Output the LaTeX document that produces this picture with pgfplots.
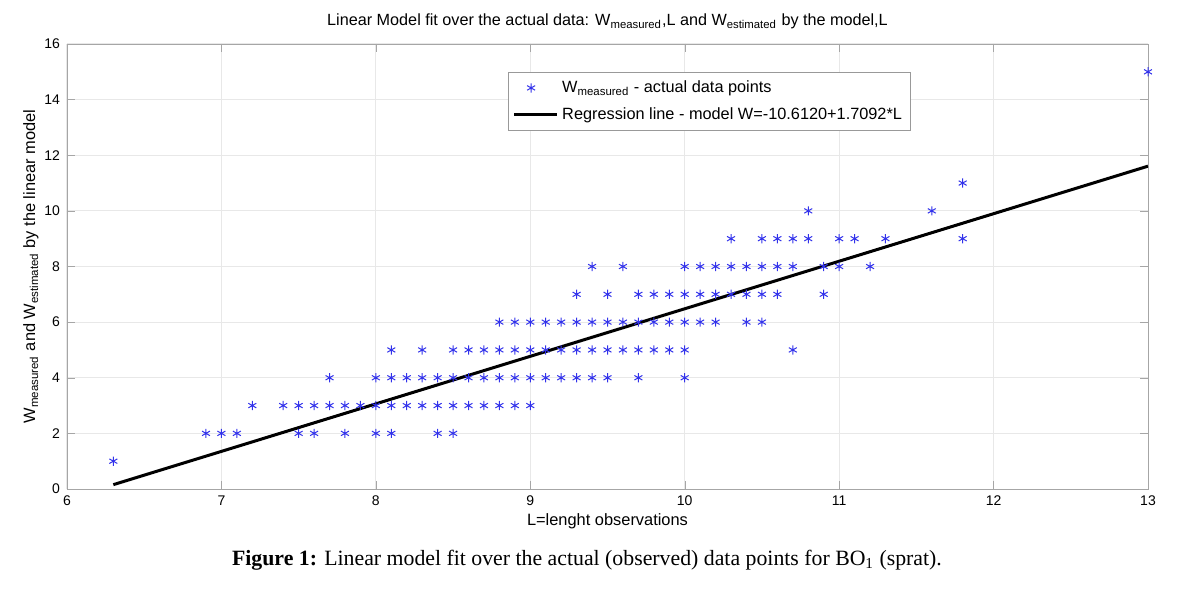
\documentclass[border=0pt]{standalone}
\usepackage{pgfplots}
\pgfplotsset{compat=1.18}
\usepackage{fontspec}
\setmainfont{Liberation Sans}
\newfontfamily\capfont{Liberation Serif}

\pgfplotsset{longline/.style={legend image code/.code={\draw[##1] (0cm,0cm) -- (0.75cm,0cm);}}}

% observed points, one row per weight value
\pgfplotstableread{
x y
6.3 1
6.9 2
7.0 2
7.1 2
7.5 2
7.6 2
7.8 2
8.0 2
8.1 2
8.4 2
8.5 2
7.2 3
7.4 3
7.5 3
7.6 3
7.7 3
7.8 3
7.9 3
8.0 3
8.1 3
8.2 3
8.3 3
8.4 3
8.5 3
8.6 3
8.7 3
8.8 3
8.9 3
9.0 3
7.7 4
8.0 4
8.1 4
8.2 4
8.3 4
8.4 4
8.5 4
8.6 4
8.7 4
8.8 4
8.9 4
9.0 4
9.1 4
9.2 4
9.3 4
9.4 4
9.5 4
9.7 4
10.0 4
8.1 5
8.3 5
8.5 5
8.6 5
8.7 5
8.8 5
8.9 5
9.0 5
9.1 5
9.2 5
9.3 5
9.4 5
9.5 5
9.6 5
9.7 5
9.8 5
9.9 5
10.0 5
10.7 5
8.8 6
8.9 6
9.0 6
9.1 6
9.2 6
9.3 6
9.4 6
9.5 6
9.6 6
9.7 6
9.8 6
9.9 6
10.0 6
10.1 6
10.2 6
10.4 6
10.5 6
9.3 7
9.5 7
9.7 7
9.8 7
9.9 7
10.0 7
10.1 7
10.2 7
10.3 7
10.4 7
10.5 7
10.6 7
10.9 7
9.4 8
9.6 8
10.0 8
10.1 8
10.2 8
10.3 8
10.4 8
10.5 8
10.6 8
10.7 8
10.9 8
11.0 8
11.2 8
10.3 9
10.5 9
10.6 9
10.7 9
10.8 9
11.0 9
11.1 9
11.3 9
11.8 9
10.8 10
11.6 10
11.8 11
13.0 15
}\measured

\begin{document}
\begin{tikzpicture}
\useasboundingbox (0,0) rectangle (589pt,294.5pt);
\begin{axis}[
    at={(33.5pt,50pt)}, anchor=south west,
    scale only axis,
    width=540.5pt, height=222.5pt,
    xmin=6, xmax=13, ymin=0, ymax=16,
    xtick={6,...,13}, ytick={0,2,...,16},
    grid=major,
    major grid style={gray!18, line width=0.5pt},
    axis line style={gray!70},
    tick style={gray!70},
    tick align=inside,
    major tick length=4pt,
    ticklabel style={font=\fontsize{7}{8}\selectfont},
    /pgf/number format/assume math mode=true,
    title={Linear Model fit over the actual data: W\textsubscript{measured},L and W\textsubscript{estimated} by the model,L},
    title style={font=\fontsize{8.1}{9.5}\selectfont, yshift=-2pt},
    xlabel={L=lenght observations},
    ylabel={W\textsubscript{measured} and W\textsubscript{estimated} by the linear model},
    label style={font=\fontsize{8.2}{9.5}\selectfont},
    xlabel style={yshift=3pt},
    ylabel style={yshift=-4pt},
    legend style={at={(0.408,0.937)}, anchor=north west,
        draw=gray!80, line width=0.5pt,
        font=\fontsize{8.15}{9.5}\selectfont,
        cells={anchor=west}, row sep=2pt,
        inner xsep=2pt, inner ysep=2pt},
]
\addplot[only marks, mark=asterisk, mark size=2.3pt, color={rgb,255:red,50;green,50;blue,235}, line width=0.5pt]
    table[x=x, y=y] {\measured};
\addlegendentry{W\textsubscript{measured} - actual data points}
\addplot[black, line width=1.5pt, longline]
    coordinates {(6.3,0.1560) (13.0,11.6076)};
\addlegendentry{Regression line - model W=-10.6120+1.7092*L}
\end{axis}
\node[font=\capfont\fontsize{10.9}{13}\selectfont] at (293.5pt,14.5pt)
    {\textbf{Figure 1:} Linear model fit over the actual (observed) data points for BO\textsubscript{1} (sprat).};
\end{tikzpicture}
\end{document}
